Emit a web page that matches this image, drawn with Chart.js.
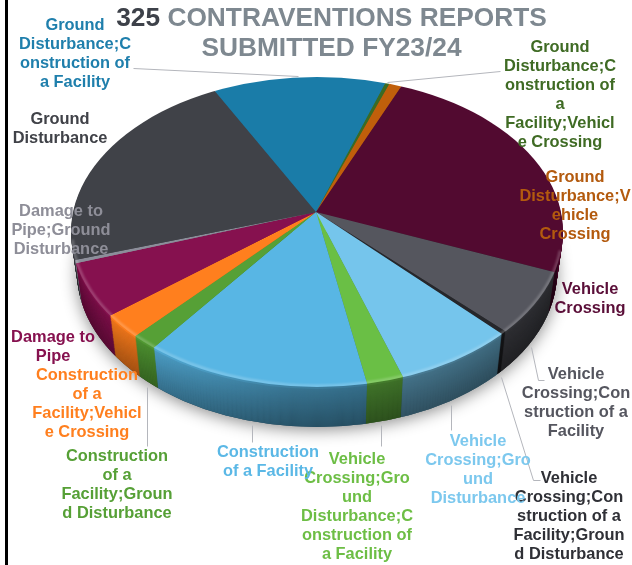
<!DOCTYPE html>
<html>
<head>
<meta charset="utf-8">
<style>
html,body{margin:0;padding:0;background:#fff;overflow:hidden}
#wrap{position:relative;width:632px;height:565px}
canvas{display:block}
</style>
<script src="https://cdn.jsdelivr.net/npm/chart.js@4"></script>
</head>
<body>
<div id="wrap"><canvas id="c" width="632" height="565"></canvas></div>
<script>
const categories = [
  "Ground Disturbance;Construction of a Facility",
  "Ground Disturbance;Construction of a Facility;Vehicle Crossing",
  "Ground Disturbance;Vehicle Crossing",
  "Vehicle Crossing",
  "Vehicle Crossing;Construction of a Facility",
  "Vehicle Crossing;Construction of a Facility;Ground Disturbance",
  "Vehicle Crossing;Ground Disturbance",
  "Vehicle Crossing;Ground Disturbance;Construction of a Facility",
  "Construction of a Facility",
  "Construction of a Facility;Ground Disturbance",
  "Construction of a Facility;Vehicle Crossing",
  "Damage to Pipe",
  "Damage to Pipe;Ground Disturbance",
  "Ground Disturbance"
];
const reportCounts = [42, 1, 3, 80, 21, 1, 23, 7, 43, 5, 8, 18, 1, 72];
const sliceColors = ["#1A7CA8","#3B6B24","#C05F0B","#520A30","#55565E","#26272B","#75C5EC",
                     "#6ABF45","#58B6E4","#56A036","#FF7F1E","#86114F","#8C8E9A","#404248"];
const labelColors = ["#1F7FAC","#3F6B24","#B35A0E","#5A0E38","#55565F","#2F3036","#7CC8EE",
                     "#6DBE45","#5BB8E6","#56A036","#FF7F1E","#86114F","#8E8E98","#404248"];
const wrappedLabels = [
  ["Ground","Disturbance;C","onstruction of","a Facility"],
  ["Ground","Disturbance;C","onstruction of","a","Facility;Vehicl","e Crossing"],
  ["Ground","Disturbance;V","ehicle","Crossing"],
  ["Vehicle","Crossing"],
  ["Vehicle","Crossing;Con","struction of a","Facility"],
  ["Vehicle","Crossing;Con","struction of a","Facility;Groun","d Disturbance"],
  ["Vehicle","Crossing;Gro","und","Disturbance"],
  ["Vehicle","Crossing;Gro","und","Disturbance;C","onstruction of","a Facility"],
  ["Construction","of a Facility"],
  ["Construction","of a","Facility;Groun","d Disturbance"],
  ["Construction","of a","Facility;Vehicl","e Crossing"],
  ["Damage to","Pipe"],
  ["Damage to","Pipe;Ground","Disturbance"],
  ["Ground","Disturbance"]
];
const labelAnchors = [[75,25.5],[560,47.5],[575,177.5],[590,289.5],[576,374.5],[569,478.5],[478,441.5],
                      [357,459.5],[268,452.5],[117,456.5],[87,375.5],[53,337.5],[61,211.5],[60,119.5]];
const titleCount = "325";
const titleRest = " CONTRAVENTIONS REPORTS";
const titleLine2 = "SUBMITTED FY23/24";
const leaderLines = [
  [[133,68],[298,76]],
  [[387,82],[500,71]],
  [[531,347],[538,380],[544,380]],
  [[501,377],[533,480],[540,480]],
  [[451,405],[451,430]],
  [[381,425],[381,446]],
  [[252,425],[252,442]],
  [[147,387],[147,446]]
];

const PIE = {cx:317, cy:232, rx:246, ry:155, apexX:316, apexY:212, sx:1.2, sy:0.756, depth:40, taper:6};

function taperAt(d){ return (PIE.rx - PIE.taper*d/PIE.depth)/PIE.rx; }
function applyPieTransform(chart, ctx, dy){
  const m = chart.getDatasetMeta(0).data[0], k = taperAt(dy);
  ctx.translate(PIE.apexX, PIE.apexY + dy);
  ctx.scale(PIE.sx*k, PIE.sy);
  ctx.translate(-m.x, -m.y);
}
function ellipsePath(ctx, dy){
  ctx.beginPath();
  ctx.ellipse(PIE.cx, PIE.cy + dy, PIE.rx*taperAt(dy), PIE.ry, 0, 0, Math.PI*2);
}

const pie3d = {
  id:'pie3d',
  beforeDatasetsDraw(chart){
    const ctx = chart.ctx, arcs = chart.getDatasetMeta(0).data;
    // soft shadow
    ctx.save();
    ctx.shadowColor='rgba(0,0,0,0.45)'; ctx.shadowBlur=16; ctx.shadowOffsetY=3;
    ctx.fillStyle='#222';
    ellipsePath(ctx, PIE.depth); ctx.fill();
    ctx.restore();
    // side wall, extruded from the same arcs
    for(let d=PIE.depth; d>=1; d--){
      ctx.save();
      ellipsePath(ctx, d); ctx.clip();
      ctx.save();
      applyPieTransform(chart, ctx, d);
      arcs.forEach(a=>a.draw(ctx));
      ctx.restore();
      const t=d/PIE.depth;
      const shade = d<=2 ? 0 : 0.06+0.3*t;
      ctx.fillStyle='rgba(0,0,0,'+shade+')';
      ctx.fillRect(0,0,632,565);
      ctx.restore();
    }
    // horizontal darkening of the wall
    ctx.save();
    ctx.beginPath();
    ctx.moveTo(PIE.cx-PIE.rx,PIE.cy);
    ctx.lineTo(PIE.cx-PIE.rx+PIE.taper,PIE.cy+PIE.depth);
    ctx.ellipse(PIE.cx,PIE.cy+PIE.depth,PIE.rx-PIE.taper,PIE.ry,0,Math.PI,0,true);
    ctx.lineTo(PIE.cx+PIE.rx,PIE.cy);
    ctx.closePath();
    ctx.clip();
    const g=ctx.createLinearGradient(71,0,563,0);
    g.addColorStop(0,'rgba(0,0,0,0.1)');
    g.addColorStop(0.09,'rgba(0,0,0,0)');
    g.addColorStop(0.2,'rgba(0,0,0,0.1)');
    g.addColorStop(0.45,'rgba(0,0,0,0.3)');
    g.addColorStop(0.7,'rgba(0,0,0,0.38)');
    g.addColorStop(1,'rgba(0,0,0,0.45)');
    ctx.fillStyle=g; ctx.fillRect(0,0,632,565);
    ctx.restore();
    // top face goes through the library's normal dataset draw
    ctx.save();
    ellipsePath(ctx,0); ctx.clip();
    applyPieTransform(chart, ctx, 0);
  },
  afterDatasetsDraw(chart){
    const ctx = chart.ctx;
    ctx.restore();
    // bevel highlight on the front rim
    ctx.save();
    ellipsePath(ctx,0); ctx.clip();
    ctx.beginPath();
    ctx.ellipse(PIE.cx,PIE.cy,PIE.rx-1,PIE.ry-1,0,0.12,Math.PI-0.05);
    ctx.strokeStyle='rgba(255,255,255,0.22)';
    ctx.lineWidth=3;
    ctx.filter='blur(1px)';
    ctx.stroke();
    ctx.restore();
    // leader lines
    ctx.save();
    ctx.strokeStyle='#B4B6BC'; ctx.lineWidth=1;
    leaderLines.forEach(pts=>{
      ctx.beginPath();
      pts.forEach((p,i)=> i?ctx.lineTo(p[0]+.5,p[1]+.5):ctx.moveTo(p[0]+.5,p[1]+.5));
      ctx.stroke();
    });
    ctx.restore();
    // slice labels
    ctx.save();
    ctx.textAlign='center'; ctx.textBaseline='middle';
    ctx.font='bold 16.4px "Liberation Sans", Arial, sans-serif';
    wrappedLabels.forEach((lines,i)=>{
      ctx.fillStyle=labelColors[i];
      lines.forEach((ln,k)=>ctx.fillText(ln,labelAnchors[i][0],labelAnchors[i][1]+k*19));
    });
    // title
    ctx.font='bold 26.3px "Liberation Sans", Arial, sans-serif';
    ctx.textAlign='left';
    const w1=ctx.measureText(titleCount).width, w2=ctx.measureText(titleRest).width;
    const x0=331.5-(w1+w2)/2;
    ctx.fillStyle='#3D4149'; ctx.fillText(titleCount,x0,19);
    ctx.fillStyle='#7E8890'; ctx.fillText(titleRest,x0+w1,19);
    ctx.textAlign='center';
    ctx.fillText(titleLine2,331.5,49);
    // frame line at the left
    ctx.fillStyle='#000'; ctx.fillRect(5,0,3,565);
    ctx.restore();
  }
};

new Chart(document.getElementById('c'),{
  type:'pie',
  data:{labels:categories,datasets:[{data:reportCounts,backgroundColor:sliceColors,borderWidth:0}]},
  options:{
    responsive:false,animation:false,rotation:332.2,
    layout:{padding:0},
    plugins:{legend:{display:false},tooltip:{enabled:false},title:{display:false}},
    events:[]
  },
  plugins:[pie3d]
});
</script>
</body>
</html>
